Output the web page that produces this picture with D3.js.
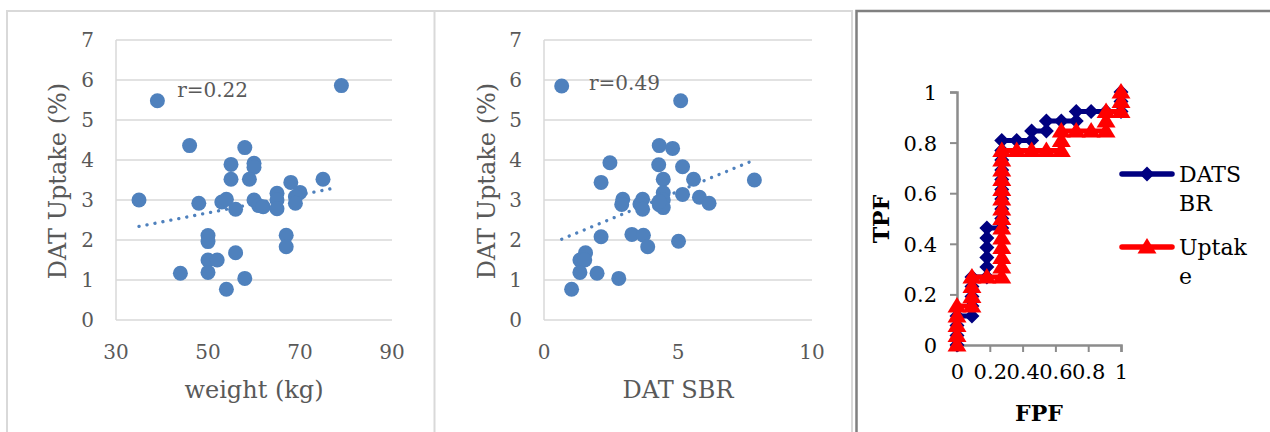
<!DOCTYPE html>
<html><head><meta charset="utf-8">
<script src="https://cdn.jsdelivr.net/npm/d3@7"></script>
<style>body{margin:0;background:#fff}svg{display:block}</style>
</head><body>
<script>
// ---- Data ----
const weightKg = [35,39,79,46,44,48,50,50,50,52,50,54,56,58,53,54,56,55,55,58,60,60,59,60,61,62,65,65,65,67,67,68,70,69,69,75];
const uptakeW  = [3.0,5.48,5.86,4.36,1.17,2.92,2.11,1.96,1.5,1.5,1.19,0.77,1.68,1.04,2.95,3.02,2.77,3.89,3.52,4.31,3.92,3.82,3.52,3.0,2.86,2.83,3.17,3.0,2.78,2.12,1.83,3.44,3.19,3.08,2.92,3.52];
const datSbr   = [0.66,5.1,4.3,4.8,2.46,4.28,5.17,2.13,4.45,5.58,7.85,4.45,4.45,5.17,5.8,6.16,2.94,2.9,3.68,3.58,3.68,4.3,4.45,4.3,2.13,3.28,3.71,3.87,5.02,1.55,1.34,1.52,1.34,1.98,2.79,1.03];
const uptakeS  = [5.85,5.48,4.36,4.29,3.93,3.88,3.83,3.44,3.52,3.52,3.5,3.18,3.0,3.14,3.07,2.92,3.02,2.89,3.02,2.9,2.77,2.88,2.81,2.96,2.08,2.14,2.12,1.83,1.97,1.68,1.5,1.5,1.19,1.17,1.04,0.77];
const trendW = [[35,2.34],[78,3.31]];
const trendS = [[0.66,2.02],[7.85,4.0]];
const rLabels = ["r=0.22","r=0.49"];
const yTicks = [0,1,2,3,4,5,6,7];
const wTicks = [30,50,70,90];
const sTicks = [0,5,10];

const fpfSBR = [0,0,0,0,0.091,0.091,0.091,0.091,0.091,0.182,0.182,0.182,0.182,0.182,0.182,0.273,0.273,0.273,0.273,0.273,0.273,0.273,0.273,0.273,0.273,0.364,0.455,0.455,0.545,0.545,0.636,0.727,0.727,0.818,0.909,1,1,1];
const tpfSBR = [0,0.038,0.077,0.115,0.115,0.154,0.192,0.231,0.269,0.269,0.308,0.346,0.385,0.423,0.462,0.462,0.5,0.538,0.577,0.615,0.654,0.692,0.731,0.769,0.808,0.808,0.808,0.846,0.846,0.885,0.885,0.885,0.923,0.923,0.923,0.923,0.962,1];
const fpfUp  = [0,0,0,0,0,0.091,0.091,0.091,0.091,0.182,0.273,0.273,0.273,0.273,0.273,0.273,0.273,0.273,0.273,0.273,0.273,0.273,0.273,0.273,0.364,0.455,0.545,0.636,0.636,0.636,0.727,0.818,0.909,0.909,0.909,1,1,1];
const tpfUp  = [0,0.038,0.077,0.115,0.154,0.154,0.192,0.231,0.269,0.269,0.269,0.308,0.346,0.385,0.423,0.462,0.5,0.538,0.577,0.615,0.654,0.692,0.731,0.769,0.769,0.769,0.769,0.769,0.808,0.846,0.846,0.846,0.846,0.885,0.923,0.923,0.962,1];
const rocTicks = [0,0.2,0.4,0.6,0.8,1];
const legendNames = [["DATS","BR"],["Uptak","e"]];

// ---- Drawing ----
const W = 1270, H = 432;
const svg = d3.select("body").append("svg").attr("width", W).attr("height", H);
svg.append("rect").attr("width", W).attr("height", H).attr("fill", "#fff");
const FONT = "'DejaVu Serif', 'Liberation Serif', serif";
const TXT = "#595959";

// panel borders
svg.append("path").attr("d", "M7,440 V11 H853 M434.5,11 V440 M852,11 V440")
  .attr("fill", "none").attr("stroke", "#D9D9D9").attr("stroke-width", 2);
svg.append("path").attr("d", "M856.5,440 V11 H1272")
  .attr("fill", "none").attr("stroke", "#808080").attr("stroke-width", 2.5);

function scatter(cfg) {
  const x = d3.scaleLinear().domain(cfg.xDomain).range([cfg.x0, cfg.x1]);
  const y = d3.scaleLinear().domain([0, 7]).range([320, 40]);
  const g = svg.append("g");
  g.selectAll("line.grid").data(yTicks.slice(1)).join("line")
    .attr("x1", cfg.x0).attr("x2", cfg.x1).attr("y1", d => y(d)).attr("y2", d => y(d))
    .attr("stroke", "#D9D9D9").attr("stroke-width", 1.5);
  g.append("line").attr("x1", cfg.x0).attr("x2", cfg.x1).attr("y1", y(0)).attr("y2", y(0))
    .attr("stroke", "#D9D9D9").attr("stroke-width", 1.5);
  g.append("line").attr("x1", cfg.x0).attr("x2", cfg.x0).attr("y1", y(0)).attr("y2", y(7))
    .attr("stroke", "#D9D9D9").attr("stroke-width", 1.5);
  g.selectAll("text.yt").data(yTicks).join("text")
    .attr("x", cfg.x0 - 22).attr("y", d => y(d)).attr("dy", "0.36em")
    .attr("text-anchor", "end").attr("font-family", FONT).attr("font-size", 20).attr("fill", TXT)
    .text(d => d);
  g.selectAll("text.xt").data(cfg.xTicks).join("text")
    .attr("x", d => x(d)).attr("y", 359)
    .attr("text-anchor", "middle").attr("font-family", FONT).attr("font-size", 20).attr("fill", TXT)
    .text(d => d);
  g.append("text").attr("x", (cfg.x0 + cfg.x1) / 2).attr("y", 398)
    .attr("text-anchor", "middle").attr("font-family", FONT).attr("font-size", 24).attr("fill", TXT)
    .text(cfg.xTitle);
  g.append("text").attr("transform", `translate(${cfg.yTitleX},181) rotate(-90)`)
    .attr("text-anchor", "middle").attr("font-family", FONT).attr("font-size", 24).attr("fill", TXT)
    .text("DAT Uptake (%)");
  g.append("path").attr("d", d3.line().x(d => x(d[0])).y(d => y(d[1]))(cfg.trend))
    .attr("stroke", "#4F81BD").attr("stroke-width", 3.3).attr("stroke-linecap", "round")
    .attr("stroke-dasharray", "0.1 8").attr("fill", "none");
  g.selectAll("circle").data(cfg.xs.map((v, i) => [v, cfg.ys[i]])).join("circle")
    .attr("cx", d => x(d[0])).attr("cy", d => y(d[1])).attr("r", 7.5).attr("fill", "#4F81BD");
  g.append("text").attr("x", x(cfg.rPos[0])).attr("y", y(cfg.rPos[1]))
    .attr("font-family", FONT).attr("font-size", 20).attr("fill", TXT).text(cfg.rText);
}

scatter({xDomain: [30, 90], x0: 116, x1: 392, xTicks: wTicks, xTitle: "weight (kg)", yTitleX: 66,
  trend: trendW, xs: weightKg, ys: uptakeW, rPos: [43.3, 5.575], rText: rLabels[0]});
scatter({xDomain: [0, 10], x0: 544, x1: 812, xTicks: sTicks, xTitle: "DAT SBR", yTitleX: 495,
  trend: trendS, xs: datSbr, ys: uptakeS, rPos: [1.68, 5.75], rText: rLabels[1]});

// ---- ROC ----
const rx = d3.scaleLinear().domain([0, 1]).range([957, 1121]);
const ry = d3.scaleLinear().domain([0, 1]).range([345, 92]);
const rg = svg.append("g");
rg.append("g").attr("transform", "translate(957,0)")
  .call(d3.axisLeft(ry).tickValues(rocTicks).tickSize(7).tickFormat(d3.format("")))
  .call(a => { a.select(".domain").attr("stroke", "#8C8C8C").attr("stroke-width", 2.5);
    a.selectAll(".tick line").attr("stroke", "#8C8C8C").attr("stroke-width", 2);
    a.selectAll("text").attr("font-family", FONT).attr("font-size", 21).attr("fill", "#000").attr("x", -20).attr("dy", "0.36em"); });
rg.append("g").attr("transform", "translate(0,345)")
  .call(d3.axisBottom(rx).tickValues(rocTicks).tickSize(7).tickFormat(d3.format("")))
  .call(a => { a.select(".domain").attr("stroke", "#8C8C8C").attr("stroke-width", 2.5);
    a.selectAll(".tick line").attr("stroke", "#8C8C8C").attr("stroke-width", 2);
    a.selectAll("text").attr("font-family", FONT).attr("font-size", 21).attr("fill", "#000").attr("y", 26).attr("dy", "0.36em"); });
rg.append("text").attr("transform", "translate(889,219) rotate(-90)").attr("text-anchor", "middle")
  .attr("font-family", FONT).attr("font-weight", "bold").attr("font-size", 22).attr("fill", "#000").text("TPF");
rg.append("text").attr("x", 1039).attr("y", 421).attr("text-anchor", "middle")
  .attr("font-family", FONT).attr("font-weight", "bold").attr("font-size", 22).attr("fill", "#000").text("FPF");

const diamond = "M0,-7.5 L7.5,0 L0,7.5 L-7.5,0 Z";
const triangle = "M0,-9 L9.5,6.5 L-9.5,6.5 Z";
const series = [
  {fx: fpfSBR, ty: tpfSBR, color: "#000080", shape: diamond},
  {fx: fpfUp, ty: tpfUp, color: "#FF0000", shape: triangle}
];
series.forEach((s, k) => {
  const pts = s.fx.map((v, i) => [v, s.ty[i]]);
  rg.append("path").attr("d", d3.line().x(d => rx(d[0])).y(d => ry(d[1]))(pts))
    .attr("fill", "none").attr("stroke", s.color).attr("stroke-width", 5).attr("stroke-linejoin", "round");
  rg.selectAll(null).data(pts).join("path")
    .attr("transform", d => `translate(${rx(d[0])},${ry(d[1])})`).attr("d", s.shape).attr("fill", s.color);
  const ly = k === 0 ? 174 : 247;
  rg.append("line").attr("x1", 1122).attr("x2", 1172).attr("y1", ly).attr("y2", ly)
    .attr("stroke", s.color).attr("stroke-width", 5.5).attr("stroke-linecap", "round");
  rg.append("path").attr("transform", `translate(1147,${ly})`).attr("d", s.shape).attr("fill", s.color);
  legendNames[k].forEach((t, j) => {
    rg.append("text").attr("x", 1179).attr("y", ly + 8 + j * 29)
      .attr("font-family", FONT).attr("font-size", 22).attr("fill", "#000").text(t);
  });
});
</script>
</body></html>
